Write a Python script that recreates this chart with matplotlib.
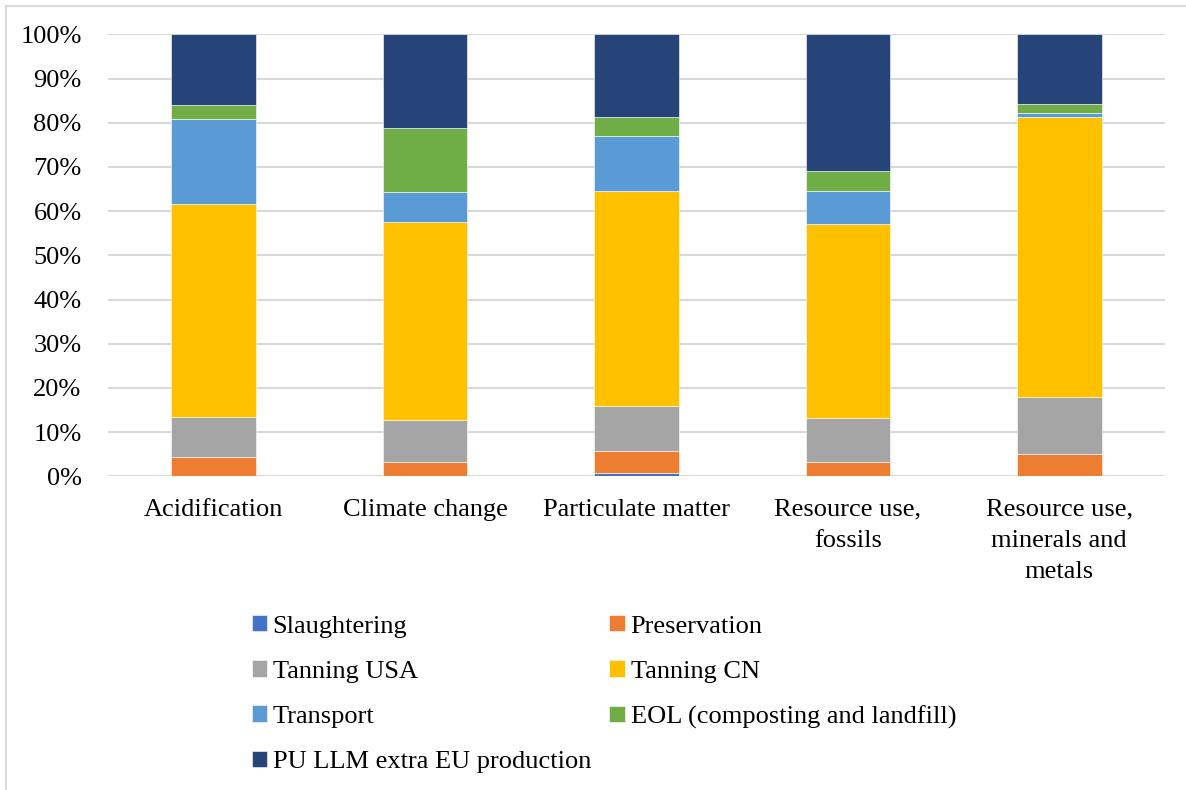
import matplotlib
matplotlib.use("Agg")
import matplotlib.pyplot as plt
from matplotlib.patches import Rectangle
from matplotlib.ticker import PercentFormatter
import numpy as np

plt.rcParams['font.family'] = ['Liberation Serif', 'DejaVu Serif']

categories = ["Acidification", "Climate change", "Particulate matter",
              "Resource use,\nfossils", "Resource use,\nminerals and\nmetals"]

# share of each life-cycle stage per impact category (%)
slaughtering = [0.1, 0.1, 0.7, 0.1, 0.1]
preservation = [4.3, 3.2, 5.1, 3.2, 4.9]
tanning_usa = [9.0, 9.4, 10.2, 9.8, 12.9]
tanning_cn = [48.1, 44.9, 48.5, 43.9, 63.5]
transport = [19.3, 6.8, 12.6, 7.5, 0.7]
eol = [3.1, 14.3, 4.3, 4.6, 2.1]
pu_llm = [16.1, 21.3, 18.6, 30.9, 15.8]

series = [
    ("Slaughtering", slaughtering, "#4472C4"),
    ("Preservation", preservation, "#ED7D31"),
    ("Tanning USA", tanning_usa, "#A5A5A5"),
    ("Tanning CN", tanning_cn, "#FFC000"),
    ("Transport", transport, "#5B9BD5"),
    ("EOL (composting and landfill)", eol, "#70AD47"),
    ("PU LLM extra EU production", pu_llm, "#264478"),
]

fig = plt.figure(figsize=(11.86, 7.9), dpi=100)
ax = fig.add_axes([108 / 1186, 1 - 476.3 / 790, 1057 / 1186, 442 / 790])

x = np.arange(len(categories))
bottom = np.zeros(len(categories))
handles = {}
for name, vals, col in series:
    vals = np.array(vals)
    b = ax.bar(x, vals, 0.4, bottom=bottom, color=col, label=name,
               edgecolor="white", linewidth=0.4, zorder=3)
    handles[name] = b
    bottom += vals

ax.set_xlim(-0.5, len(categories) - 0.5)
ax.set_ylim(0, 100)
ax.set_yticks(np.arange(0, 101, 10))
ax.yaxis.set_major_formatter(PercentFormatter(decimals=0))
ax.grid(axis="y", color="#d9d9d9", linewidth=1.5, zorder=0)
ax.set_axisbelow(True)
for s in ax.spines.values():
    s.set_visible(False)
ax.tick_params(axis="both", length=0, labelsize=19)
ax.tick_params(axis="y", pad=19)
ax.tick_params(axis="x", pad=16)
ax.set_xticks(x)
ax.set_xticklabels(categories, linespacing=1.55)
for lbl in ax.get_xticklabels():
    lbl.set_verticalalignment("top")

# legend filled row by row: two columns
order = ["Slaughtering", "Tanning USA", "Transport", "PU LLM extra EU production",
         "Preservation", "Tanning CN", "EOL (composting and landfill)"]
fig.legend([handles[n] for n in order], order, ncol=2, frameon=False,
           loc="upper left", bbox_to_anchor=(251.5 / 1186, 1 - 615 / 790),
           fontsize=19, handlelength=0.58, handleheight=0.58,
           handletextpad=0.22, columnspacing=0.7, labelspacing=0.86,
           borderpad=0, borderaxespad=0)

# outer chart frame
fig.patches.append(Rectangle((6 / 1186, -0.1), 1.2, 1 - 6 / 790 + 0.1,
                             transform=fig.transFigure, fill=False,
                             edgecolor="#d9d9d9", linewidth=1.5))

fig.savefig("out.png", dpi=100)
